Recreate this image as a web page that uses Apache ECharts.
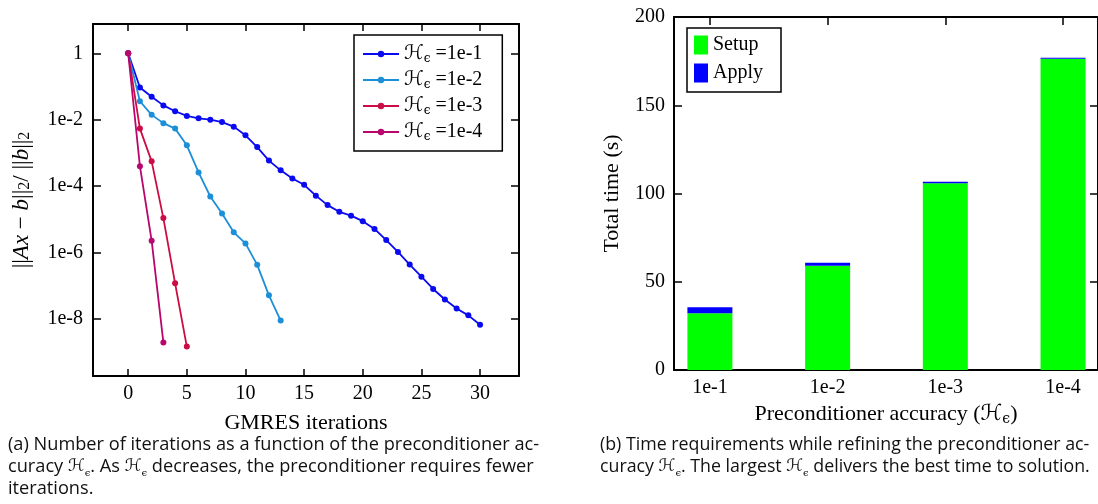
<!DOCTYPE html>
<html>
<head>
<meta charset="utf-8">
<script src="https://cdn.jsdelivr.net/npm/echarts@6/dist/echarts.min.js"></script>
<style>
  html, body { margin: 0; padding: 0; background: #fff; }
  #chart { width: 1098px; height: 504px; }
</style>
</head>
<body>
<div id="chart"></div>
<script>
// Relative residual per GMRES iteration (index = iteration number)
const residual_1e1 = [1, 9.3e-2, 4.9e-2, 2.7e-2, 1.8e-2, 1.3e-2, 1.1e-2, 1.0e-2, 8.5e-3, 6.2e-3,
  3.4e-3, 1.5e-3, 5.9e-4, 3.0e-4, 1.7e-4, 1.1e-4, 5.2e-5, 2.7e-5, 1.7e-5, 1.3e-5,
  8.9e-6, 5.2e-6, 2.4e-6, 1.05e-6, 4.4e-7, 1.9e-7, 8.1e-8, 3.9e-8, 2.1e-8, 1.3e-8, 6.8e-9];
const residual_1e2 = [1, 3.6e-2, 1.4e-2, 7.9e-3, 5.4e-3, 1.7e-3, 2.6e-4, 4.9e-5, 1.5e-5, 4.1e-6,
  1.9e-6, 4.3e-7, 5.2e-8, 9.1e-9];
const residual_1e3 = [1, 5.4e-3, 5.6e-4, 1.1e-5, 1.2e-7, 1.5e-9];
const residual_1e4 = [1, 4.0e-4, 2.3e-6, 2.0e-9];

const accuracyNames = ['1e-1', '1e-2', '1e-3', '1e-4'];
const residualSeries = [residual_1e1, residual_1e2, residual_1e3, residual_1e4];
const lineColors = ['#0a0af0', '#1c8fd8', '#cc0c44', '#b8066c'];

// Total time split into setup and apply (seconds)
const setupTime = [32.1, 59.1, 105.8, 176.3];
const applyTime = [3.4, 1.7, 0.8, 0.6];

const iterationTicks = [0, 5, 10, 15, 20, 25, 30];
const residualTicks = [1, 1e-2, 1e-4, 1e-6, 1e-8];
const accuracyTicks = [1, 2, 3, 4];

const SERIF = '"Liberation Serif", "Times New Roman", serif';
const MATH = '"DejaVu Serif", "DejaVu Sans", serif';
const CAPTION = '"Open Sans", "Noto Sans", sans-serif';

const mathRich = (size) => ({
  h: { fontFamily: MATH, fontSize: size, color: '#000', lineHeight: Math.round(size * 1.1) },
  e: { fontFamily: MATH, fontSize: Math.round(size * 0.62), color: '#000', verticalAlign: 'bottom', lineHeight: Math.round(size * 0.5) },
  i: { fontFamily: SERIF, fontSize: size, fontStyle: 'italic', color: '#000' },
  s: { fontFamily: SERIF, fontSize: Math.round(size * 0.7), color: '#000', verticalAlign: 'bottom', lineHeight: Math.round(size * 0.5) }
});

const axisLine = { show: true, onZero: false, lineStyle: { color: '#000', width: 2 } };
const tickStyle = { color: '#000', width: 1.5 };
const labelStyle = { fontFamily: SERIF, fontSize: 20, color: '#000' };
const nameStyle = { fontFamily: SERIF, fontSize: 22, color: '#000' };

const logMin = Math.pow(10, -9.71);
const logMax = Math.pow(10, 0.88);

const captionRich = {
  h: { fontFamily: MATH, fontSize: 17, lineHeight: 22 },
  e: { fontFamily: MATH, fontSize: 10, verticalAlign: 'bottom', lineHeight: 14 }
};

const option = {
  animation: false,
  backgroundColor: '#fff',
  grid: [
    { left: 93, top: 24, width: 426, height: 352 },
    { left: 674, top: 17, width: 425, height: 353 }
  ],
  xAxis: [
    {
      type: 'value', gridIndex: 0, position: 'bottom', min: -3, max: 33.32,
      axisLine, splitLine: { show: false },
      axisTick: { inside: true, length: 7, lineStyle: tickStyle, customValues: iterationTicks },
      axisLabel: Object.assign({ margin: 8, customValues: iterationTicks }, labelStyle),
      name: 'GMRES iterations', nameLocation: 'middle', nameGap: 36,
      nameTextStyle: nameStyle
    },
    {
      type: 'value', gridIndex: 0, position: 'top', min: -3, max: 33.32,
      axisLine, splitLine: { show: false },
      axisTick: { inside: true, length: 7, lineStyle: tickStyle, customValues: iterationTicks },
      axisLabel: { show: false }
    },
    {
      type: 'value', gridIndex: 1, position: 'bottom', min: 0.695, max: 4.297,
      axisLine, splitLine: { show: false },
      axisTick: { inside: true, length: 8, lineStyle: tickStyle, customValues: accuracyTicks },
      axisLabel: Object.assign({
        margin: 8, customValues: accuracyTicks,
        formatter: (v) => accuracyNames[Math.round(v) - 1]
      }, labelStyle),
      name: 'Preconditioner accuracy ({h|ℋ}{e|ϵ})', nameLocation: 'middle', nameGap: 32,
      nameTextStyle: Object.assign({ rich: mathRich(22) }, nameStyle)
    },
    {
      type: 'value', gridIndex: 1, position: 'top', min: 0.695, max: 4.297,
      axisLine, splitLine: { show: false },
      axisTick: { inside: true, length: 8, lineStyle: tickStyle, customValues: accuracyTicks },
      axisLabel: { show: false }
    }
  ],
  yAxis: [
    {
      type: 'log', logBase: 10, gridIndex: 0, position: 'left', min: logMin, max: logMax,
      axisLine, splitLine: { show: false },
      axisTick: { inside: true, length: 8, lineStyle: tickStyle, customValues: residualTicks },
      axisLabel: Object.assign({
        margin: 10, customValues: residualTicks,
        formatter: (v) => {
          const p = Math.round(Math.log10(v));
          return p === 0 ? '1' : '1e' + p;
        }
      }, labelStyle),
      name: '||{i|Ax} − {i|b}||{s|2}/ ||{i|b}||{s|2}', nameLocation: 'middle', nameGap: 60,
      nameTextStyle: Object.assign({ rich: mathRich(23) }, nameStyle, { fontSize: 23 })
    },
    {
      type: 'log', logBase: 10, gridIndex: 0, position: 'right', min: logMin, max: logMax,
      axisLine, splitLine: { show: false },
      axisTick: { inside: true, length: 8, lineStyle: tickStyle, customValues: residualTicks },
      axisLabel: { show: false }
    },
    {
      type: 'value', gridIndex: 1, position: 'left', min: 0, max: 200, interval: 50,
      axisLine, splitLine: { show: false },
      axisTick: { inside: true, length: 8, lineStyle: tickStyle },
      axisLabel: Object.assign({ margin: 9 }, labelStyle),
      name: 'Total time (s)', nameLocation: 'middle', nameGap: 51,
      nameTextStyle: nameStyle
    },
    {
      type: 'value', gridIndex: 1, position: 'right', min: 0, max: 200, interval: 50,
      axisLine, splitLine: { show: false },
      axisTick: { inside: true, length: 8, lineStyle: tickStyle },
      axisLabel: { show: false }
    }
  ],
  legend: [
    {
      data: accuracyNames,
      orient: 'vertical', left: 354, top: 35,
      padding: [8, 20, 8, 8], itemGap: 4,
      itemWidth: 36, itemHeight: 8,
      borderColor: '#000', borderWidth: 1.5, backgroundColor: '#fff',
      formatter: (name) => '{h|ℋ}{e|ϵ} =' + name,
      textStyle: Object.assign({ lineHeight: 22, rich: mathRich(20) }, labelStyle)
    },
    {
      data: ['Setup', 'Apply'],
      orient: 'vertical', left: 687, top: 28,
      padding: [6, 18, 8, 7], itemGap: 6,
      itemWidth: 14, itemHeight: 19, icon: 'rect',
      borderColor: '#000', borderWidth: 1.5, backgroundColor: '#fff',
      textStyle: Object.assign({ lineHeight: 22 }, labelStyle)
    }
  ],
  series: residualSeries.map((vals, k) => ({
    name: accuracyNames[k],
    type: 'line',
    xAxisIndex: 0, yAxisIndex: 0,
    data: vals.map((v, i) => [i, v]),
    symbol: 'circle', symbolSize: 6, showSymbol: true,
    lineStyle: { color: lineColors[k], width: 1.8 },
    itemStyle: { color: lineColors[k] },
    z: 3 + k
  })).concat([
    // time value first so that stacking applies to the vertical dimension
    {
      name: 'Setup', type: 'bar', stack: 'time',
      xAxisIndex: 2, yAxisIndex: 2, barWidth: 45,
      encode: { x: 1, y: 0 },
      data: setupTime.map((v, i) => [v, accuracyTicks[i]]),
      itemStyle: { color: '#00ff00' }
    },
    {
      name: 'Apply', type: 'bar', stack: 'time',
      xAxisIndex: 2, yAxisIndex: 2, barWidth: 45,
      encode: { x: 1, y: 0 },
      data: applyTime.map((v, i) => [v, accuracyTicks[i]]),
      itemStyle: { color: '#0000ff' }
    }
  ]),
  graphic: [
    {
      type: 'text', left: 8, top: 434,
      style: {
        text: '(a) Number of iterations as a function of the preconditioner ac-\n' +
              'curacy {h|ℋ}{e|ϵ}. As {h|ℋ}{e|ϵ} decreases, the preconditioner requires fewer\n' +
              'iterations.',
        fontFamily: CAPTION, fontSize: 18.2, lineHeight: 22, fill: '#111',
        rich: captionRich
      }
    },
    {
      type: 'text', left: 600, top: 434,
      style: {
        text: '(b) Time requirements while refining the preconditioner ac-\n' +
              'curacy {h|ℋ}{e|ϵ}. The largest {h|ℋ}{e|ϵ} delivers the best time to solution.',
        fontFamily: CAPTION, fontSize: 17.8, lineHeight: 22, fill: '#111',
        rich: captionRich
      }
    }
  ]
};

const chart = echarts.init(document.getElementById('chart'), null, { renderer: 'canvas' });
chart.setOption(option);
</script>
</body>
</html>
